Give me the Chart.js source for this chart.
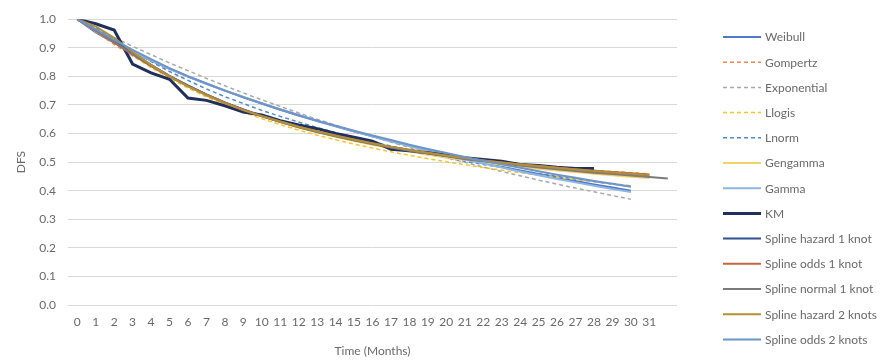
<!DOCTYPE html>
<html>
<head>
<meta charset="utf-8">
<script src="https://cdn.jsdelivr.net/npm/chart.js@4/dist/chart.umd.min.js"></script>
<style>
  html, body { margin: 0; padding: 0; background: #ffffff; }
  #wrap { width: 882px; height: 360px; position: relative; }
</style>
</head>
<body>
<div id="wrap"><canvas id="dfs"></canvas></div>
<script>
// Months on the category axis (the last slot carries no label)
const months = ['0','1','2','3','4','5','6','7','8','9','10','11','12','13','14','15','16','17','18','19','20','21','22','23','24','25','26','27','28','29','30','31',''];
const yTicks = [0, 0.1, 0.2, 0.3, 0.4, 0.5, 0.6, 0.7, 0.8, 0.9, 1.0];

// Disease-free survival by month for each model
const weibull = [1.000,0.954,0.918,0.885,0.855,0.826,0.799,0.774,0.750,0.727,0.705,0.683,0.663,0.644,0.625,0.607,0.590,0.573,0.557,0.541,0.526,0.512,0.497,0.484,0.471,0.458,0.446,0.434,0.422,0.411,0.400];
const gompertz = [1.000,0.955,0.912,0.872,0.834,0.799,0.767,0.737,0.709,0.684,0.661,0.641,0.622,0.605,0.590,0.576,0.563,0.551,0.540,0.530,0.521,0.513,0.505,0.498,0.492,0.486,0.481,0.476,0.471,0.467,0.463,0.459];
const exponential = [1.000,0.967,0.936,0.905,0.876,0.847,0.820,0.793,0.767,0.742,0.718,0.695,0.672,0.650,0.629,0.609,0.589,0.570,0.551,0.533,0.516,0.499,0.483,0.467,0.452,0.437,0.423,0.409,0.396,0.383,0.370];
const llogis = [1.000,0.962,0.918,0.873,0.831,0.793,0.759,0.728,0.700,0.675,0.652,0.631,0.612,0.594,0.578,0.563,0.549,0.536,0.524,0.512,0.501,0.491,0.481,0.472,0.463,0.455,0.447,0.439,0.432,0.425,0.418];
const lnorm = [1.000,0.972,0.930,0.890,0.852,0.817,0.786,0.756,0.729,0.705,0.681,0.660,0.640,0.621,0.603,0.586,0.571,0.556,0.542,0.528,0.515,0.503,0.492,0.481,0.470,0.460,0.450,0.441,0.432,0.423,0.415];
const gengamma = [1.000,0.962,0.921,0.879,0.839,0.801,0.767,0.736,0.708,0.683,0.660,0.640,0.621,0.604,0.589,0.574,0.561,0.548,0.537,0.526,0.516,0.507,0.499,0.491,0.484,0.477,0.471,0.465,0.459,0.454,0.449,0.444];
const gamma = [1.000,0.958,0.921,0.887,0.856,0.827,0.800,0.775,0.751,0.728,0.706,0.685,0.665,0.645,0.626,0.608,0.590,0.573,0.556,0.540,0.524,0.509,0.495,0.481,0.467,0.454,0.441,0.429,0.417,0.406,0.395];
const km = [1.000,0.984,0.962,0.843,0.812,0.790,0.724,0.716,0.697,0.675,0.665,0.645,0.630,0.617,0.600,0.587,0.573,0.545,0.540,0.533,0.524,0.515,0.509,0.503,0.492,0.488,0.482,0.478,0.478];
const splineHazard1 = [1.000,0.963,0.923,0.881,0.840,0.802,0.768,0.737,0.709,0.684,0.662,0.642,0.624,0.607,0.592,0.578,0.565,0.553,0.542,0.532,0.522,0.513,0.505,0.498,0.491,0.485,0.479,0.473,0.468,0.463,0.458,0.454];
const splineOdds1 = [1.000,0.960,0.918,0.876,0.836,0.799,0.766,0.736,0.708,0.683,0.661,0.641,0.623,0.606,0.591,0.577,0.564,0.552,0.541,0.531,0.522,0.514,0.506,0.499,0.492,0.486,0.480,0.475,0.470,0.465,0.461,0.457];
const splineNormal1 = [1.000,0.961,0.920,0.878,0.838,0.800,0.766,0.735,0.707,0.682,0.660,0.640,0.622,0.605,0.590,0.576,0.563,0.551,0.540,0.530,0.520,0.511,0.503,0.495,0.488,0.481,0.475,0.469,0.463,0.458,0.453,0.448,0.443];
const splineHazard2 = [1.000,0.975,0.935,0.885,0.840,0.800,0.765,0.734,0.706,0.682,0.661,0.642,0.624,0.608,0.593,0.579,0.566,0.554,0.543,0.533,0.523,0.514,0.506,0.499,0.492,0.486,0.480,0.474,0.469,0.464,0.459,0.455];
const splineOdds2 = [1.000,0.965,0.928,0.893,0.860,0.829,0.801,0.775,0.750,0.727,0.705,0.684,0.664,0.645,0.627,0.610,0.593,0.577,0.561,0.546,0.532,0.518,0.505,0.492,0.480,0.468,0.456,0.445,0.434,0.424,0.414];

const FONT = 'Lato, "Open Sans", sans-serif';
const TEXT = '#6a6a6a';
const DASH = [4, 3];

const series = [
  { label: 'Weibull',               data: weibull,       color: '#5079c6', width: 2 },
  { label: 'Gompertz',              data: gompertz,      color: '#ee8a4a', width: 1.5, dash: DASH },
  { label: 'Exponential',           data: exponential,   color: '#a9a9a9', width: 1.5, dash: DASH },
  { label: 'Llogis',                data: llogis,        color: '#f9c52e', width: 1.5, dash: DASH },
  { label: 'Lnorm',                 data: lnorm,         color: '#4f8cc9', width: 1.5, dash: DASH },
  { label: 'Gengamma',              data: gengamma,      color: '#f6cf68', width: 2 },
  { label: 'Gamma',                 data: gamma,         color: '#8db6e2', width: 2 },
  { label: 'KM',                    data: km,            color: '#1f2f5e', width: 3 },
  { label: 'Spline hazard 1 knot',  data: splineHazard1, color: '#33508f', width: 2 },
  { label: 'Spline odds 1 knot',    data: splineOdds1,   color: '#c2663c', width: 2 },
  { label: 'Spline normal 1 knot',  data: splineNormal1, color: '#7b7b7b', width: 2 },
  { label: 'Spline hazard 2 knots', data: splineHazard2, color: '#b58f35', width: 2 },
  { label: 'Spline odds 2 knots',   data: splineOdds2,   color: '#6e94c8', width: 2 }
];

// Legend at the right: short line sample followed by the series name
const sideLegend = {
  id: 'sideLegend',
  afterDraw(chart) {
    const ctx = chart.ctx;
    const x0 = 723, x1 = 761, tx = 765, top = 37, step = 25.2;
    ctx.save();
    ctx.font = '12px ' + FONT;
    ctx.textBaseline = 'middle';
    ctx.textAlign = 'left';
    chart.data.datasets.forEach((ds, i) => {
      const y = top + i * step;
      ctx.beginPath();
      ctx.setLineDash(ds.borderDash || []);
      ctx.strokeStyle = ds.borderColor;
      ctx.lineWidth = ds.borderWidth;
      ctx.moveTo(x0, y);
      ctx.lineTo(x1, y);
      ctx.stroke();
      ctx.setLineDash([]);
      ctx.fillStyle = TEXT;
      ctx.fillText(ds.label, tx, y + 0.5);
    });
    ctx.restore();
  }
};

new Chart(document.getElementById('dfs'), {
  type: 'line',
  data: {
    labels: months,
    datasets: series.map((s, i) => ({
      label: s.label,
      data: s.data,
      borderColor: s.color,
      backgroundColor: s.color,
      borderWidth: s.width,
      borderDash: s.dash || [],
      pointRadius: 0,
      pointHoverRadius: 0,
      tension: 0,
      fill: false,
      order: -i
    }))
  },
  options: {
    responsive: true,
    maintainAspectRatio: false,
    animation: false,
    layout: { padding: { top: 18, right: 205, bottom: 0, left: 0 } },
    plugins: {
      legend: { display: false },
      tooltip: { enabled: false }
    },
    scales: {
      x: {
        type: 'category',
        offset: true,
        grid: { display: false, drawTicks: false },
        border: { display: false },
        ticks: {
          color: TEXT,
          font: { family: FONT, size: 12 },
          padding: 10,
          autoSkip: false,
          maxRotation: 0
        },
        title: {
          display: true,
          text: 'Time (Months)',
          color: TEXT,
          font: { family: FONT, size: 12 },
          padding: { top: 0, bottom: 2 }
        },
        afterFit(scale) { scale.height = 55; }
      },
      y: {
        min: 0,
        max: 1,
        grid: { color: '#d9d9d9', lineWidth: 1, drawTicks: false },
        border: { display: false },
        afterBuildTicks(scale) { scale.ticks = yTicks.map(v => ({ value: v })); },
        ticks: {
          color: TEXT,
          font: { family: FONT, size: 12 },
          padding: 12,
          callback: v => Number(v).toFixed(1)
        },
        title: {
          display: true,
          text: 'DFS',
          color: TEXT,
          font: { family: FONT, size: 12 },
          padding: { top: 14, bottom: 0 }
        },
        afterFit(scale) { scale.width = 68; }
      }
    }
  },
  plugins: [sideLegend]
});
</script>
</body>
</html>
